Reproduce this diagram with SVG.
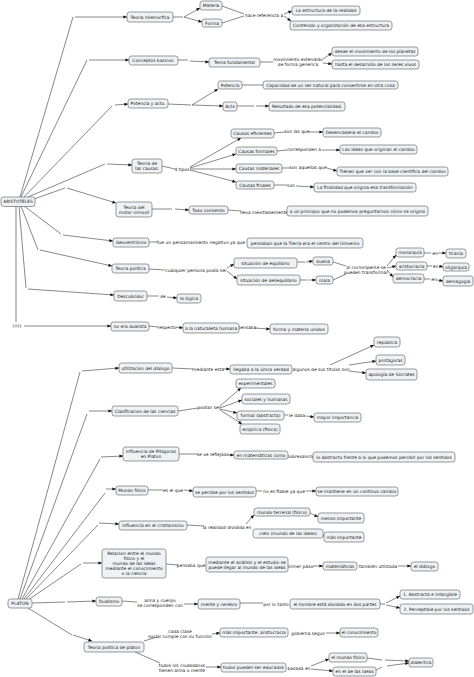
<svg xmlns="http://www.w3.org/2000/svg" width="474" height="677" viewBox="0 0 474 677">
<defs>
<marker id="ar" viewBox="0 0 10 10" refX="10" refY="5" markerWidth="4" markerHeight="3.6" markerUnits="userSpaceOnUse" orient="auto"><path d="M0,0.5 L10,5 L0,9.5 z" fill="#111"/></marker>
<style>
rect{fill:#eef2f5;stroke:#6e6e6e;stroke-width:0.7}
text{font-family:"DejaVu Sans",Verdana,sans-serif;font-size:4.4px;fill:#222;text-anchor:middle;dominant-baseline:central}
.c line,.c path{stroke:#555;stroke-width:0.7;fill:none}
.c .a{marker-end:url(#ar)}
</style>
</defs>
<rect x="0" y="0" width="474" height="677" style="fill:#fff;stroke:none"/>
<g class="c" id="connectors">
<path d="M20,197 L73,17"/><line class="a" x1="75" y1="17" x2="127" y2="17"/>
<path d="M21,197 L87,60"/><line class="a" x1="89" y1="60" x2="129" y2="60"/>
<path d="M24,197 L112,106"/><line class="a" x1="115" y1="105" x2="128" y2="104"/>
<path d="M28,197 L105,164"/><line class="a" x1="107" y1="164" x2="132" y2="165"/>
<path d="M34,199 L65,188"/><line class="a" x1="67" y1="188" x2="116" y2="203"/>
<path d="M24,206 L61,234"/><line class="a" x1="63" y1="235" x2="113" y2="241"/>
<path d="M21,206 L38,250"/><line class="a" x1="40" y1="250" x2="112" y2="266"/>
<path d="M19,206 L26,288"/><line class="a" x1="28" y1="289" x2="114" y2="295"/>
<path d="M16,206 L16,322"/><text x="17" y="326">????</text><line class="a" x1="24" y1="326" x2="111" y2="326"/>
<line x1="173" y1="17" x2="183" y2="17"/><line class="a" x1="184" y1="17" x2="200" y2="8"/><line class="a" x1="184" y1="17" x2="202" y2="22"/>
<line x1="222" y1="6" x2="244" y2="14"/><line x1="222" y1="23" x2="244" y2="16"/>
<text x="264" y="15">hace referencia a</text>
<line class="a" x1="284" y1="14" x2="292" y2="11"/><line class="a" x1="284" y1="16" x2="291" y2="21"/>
<line x1="178" y1="60" x2="188" y2="60"/><line class="a" x1="190" y1="61" x2="209" y2="62"/>
<line x1="260" y1="62" x2="273" y2="62"/>
<text x="298" y="59">movimiento extendido</text><text x="298" y="64">de forma genérica</text>
<line class="a" x1="323" y1="59" x2="332" y2="53"/><line class="a" x1="323" y1="63" x2="332" y2="64"/>
<line x1="168" y1="104" x2="191" y2="105"/><line class="a" x1="192" y1="105" x2="218" y2="89"/><line class="a" x1="192" y1="105" x2="223" y2="106"/>
<line x1="242" y1="85" x2="263" y2="85"/>
<line x1="237" y1="106" x2="254" y2="106"/><line class="a" x1="256" y1="106" x2="269" y2="106"/>
<line x1="162" y1="166" x2="175" y2="169"/><text x="182" y="169">4 tipos</text>
<line class="a" x1="190" y1="167" x2="241" y2="138"/><line class="a" x1="190" y1="168" x2="236" y2="154"/><line class="a" x1="190" y1="169" x2="236" y2="169"/><line class="a" x1="190" y1="170" x2="236" y2="182"/>
<line x1="274" y1="133" x2="285" y2="132"/><text x="297" y="131">son las que</text><line class="a" x1="309" y1="132" x2="323" y2="132"/>
<line x1="277" y1="151" x2="287" y2="150"/><text x="304" y="149">corresponden a</text><line class="a" x1="322" y1="150" x2="340" y2="150"/>
<line x1="282" y1="168" x2="290" y2="168"/><text x="308" y="167">son aquellas que</text><line class="a" x1="327" y1="168" x2="337" y2="171"/>
<line x1="274" y1="185" x2="287" y2="185"/><text x="291" y="185">son</text><line class="a" x1="296" y1="186" x2="314" y2="187"/>
<line x1="152" y1="209" x2="172" y2="209"/><line class="a" x1="175" y1="209" x2="189" y2="210"/>
<line x1="228" y1="210" x2="241" y2="211"/><text x="264" y="212">lleva inevitablemente</text>
<line x1="149" y1="242" x2="157" y2="242"/><text x="201" y="242">fue un pensamamiento negativo ya que</text>
<line x1="149" y1="269" x2="165" y2="270"/><text x="196" y="270">cualquier persona podia ser</text>
<line class="a" x1="227" y1="268" x2="234" y2="264"/><line class="a" x1="227" y1="271" x2="237" y2="279"/>
<line x1="297" y1="262" x2="305" y2="262"/><line class="a" x1="306" y1="262" x2="313" y2="261"/>
<line x1="300" y1="280" x2="307" y2="280"/><line class="a" x1="308" y1="280" x2="316" y2="280"/>
<line x1="333" y1="262" x2="346" y2="266"/><line x1="333" y1="280" x2="346" y2="274"/>
<text x="366" y="267.5">al corromperse se</text><text x="366" y="272.5">pueden transformar</text>
<line class="a" x1="387" y1="266" x2="396" y2="255"/><line class="a" x1="387" y1="268" x2="396" y2="266"/><line class="a" x1="387" y1="270" x2="393" y2="277"/>
<line x1="424" y1="253" x2="431" y2="253"/><text x="435" y="253">en</text><line class="a" x1="438" y1="253" x2="446" y2="253"/>
<line x1="427" y1="266" x2="432" y2="266"/><text x="435.5" y="266">en</text><line class="a" x1="439" y1="266" x2="443" y2="267"/>
<line x1="424" y1="279" x2="430" y2="279"/><text x="434" y="279">en</text><line class="a" x1="437" y1="280" x2="443" y2="281"/>
<line x1="147" y1="296" x2="159" y2="296"/><text x="163" y="296">de</text><line class="a" x1="167" y1="297" x2="177" y2="298"/>
<line x1="149" y1="326" x2="158" y2="327"/><text x="167" y="327">respecto</text><line class="a" x1="176" y1="327" x2="183" y2="328"/>
<text x="247" y="327">pensaba</text><line class="a" x1="254" y1="328" x2="270" y2="329"/>
<path d="M18,599 L80,372"/><line class="a" x1="82" y1="371" x2="119" y2="368"/>
<path d="M20,599 L87,414"/><line class="a" x1="89" y1="411" x2="112" y2="411"/>
<path d="M22,599 L100,459"/><line class="a" x1="101" y1="457" x2="123" y2="456"/>
<path d="M24,599 L105,493"/><line class="a" x1="106" y1="489" x2="116" y2="489"/>
<path d="M26,599 L98,525"/><line class="a" x1="99" y1="523" x2="119" y2="524"/>
<path d="M28,600 L81,564"/><line class="a" x1="83" y1="563" x2="102" y2="563"/>
<path d="M32,603 L65,602"/><line class="a" x1="67" y1="602" x2="96" y2="601"/>
<path d="M28,608 L72,635"/><line class="a" x1="73" y1="635" x2="92" y2="641"/>
<line x1="172" y1="368" x2="193" y2="369"/><text x="208" y="369">mediante esta</text><line class="a" x1="223" y1="369" x2="230" y2="369"/>
<text x="321" y="369">algunos de sus títulos son</text>
<line class="a" x1="330" y1="365" x2="374" y2="345"/><line class="a" x1="349" y1="365" x2="376" y2="361"/><line class="a" x1="349" y1="371" x2="366" y2="373"/>
<line x1="178" y1="411" x2="198" y2="408"/><text x="209" y="407">podían ser</text>
<line class="a" x1="220" y1="406" x2="241" y2="388"/><line class="a" x1="220" y1="408" x2="242" y2="400"/><line class="a" x1="220" y1="409" x2="237" y2="413"/><line class="a" x1="220" y1="410" x2="242" y2="424"/>
<line x1="284" y1="415" x2="288" y2="415"/><text x="297" y="415">le daba</text><line class="a" x1="306" y1="416" x2="314" y2="417"/>
<line x1="179" y1="454" x2="197" y2="454"/><text x="213" y="454">se ve reflejado</text><line class="a" x1="229" y1="455" x2="234" y2="455"/>
<text x="300" y="456">sobrevalora</text>
<line x1="148" y1="490" x2="163" y2="490"/><text x="173" y="490">es el que</text><line class="a" x1="184" y1="490" x2="193" y2="491"/>
<line x1="256" y1="491" x2="262" y2="491"/><text x="284" y="491">no es fiable ya que</text><line class="a" x1="306" y1="491" x2="316" y2="491"/>
<line x1="187" y1="525" x2="204" y2="526"/><text x="227" y="527">la realidad dividida en</text>
<line class="a" x1="246" y1="524" x2="254" y2="515"/>
<line class="a" x1="310" y1="513" x2="318" y2="517"/>
<line class="a" x1="320" y1="535" x2="324" y2="536"/>
<line x1="166" y1="564" x2="178" y2="565"/><text x="191" y="565">pensaba que</text>
<text x="300" y="566">primer paso</text><line class="a" x1="313" y1="566" x2="323" y2="566"/>
<text x="378" y="566">también utilizada</text><line class="a" x1="398" y1="566" x2="411" y2="566"/>
<line x1="122" y1="601" x2="137" y2="602"/><text x="160" y="600">alma y cuerpo</text><text x="160" y="605">se corresponden con</text><line class="a" x1="184" y1="604" x2="198" y2="604"/>
<line x1="240" y1="603" x2="263" y2="603"/><text x="276" y="604">por lo tanto</text>
<line x1="380" y1="604" x2="385" y2="604"/><line class="a" x1="386" y1="603" x2="400" y2="596"/><line class="a" x1="386" y1="605" x2="400" y2="608"/>
<line x1="144" y1="641" x2="157" y2="637"/><text x="180" y="631">cada clase</text><text x="180" y="636">social cumple con su función</text><line class="a" x1="212" y1="634" x2="220" y2="633"/>
<text x="308" y="633">gobierna segun</text><line class="a" x1="326" y1="633" x2="340" y2="633"/>
<line x1="135" y1="652" x2="160" y2="663"/><text x="182" y="665">todos los ciudadanos</text><text x="182" y="670">tienen alma o mente</text><line class="a" x1="206" y1="667" x2="221" y2="667"/>
<text x="299" y="668">basada en</text><line class="a" x1="311" y1="666" x2="329" y2="659"/><line class="a" x1="311" y1="669" x2="333" y2="671"/>
<line x1="367" y1="658" x2="382" y2="660"/><line class="a" x1="385" y1="660" x2="409" y2="661"/>
<line x1="376" y1="670" x2="382" y2="667"/><line class="a" x1="387" y1="666" x2="409" y2="663"/>
</g>
<g id="aristoteles"><rect x="1" y="197" width="34" height="9.5" rx="2.5"/><text x="18" y="201.8">ARISTOTELES</text></g>
<g id="hilemorfica"><rect x="127" y="12" width="46" height="10" rx="2.5"/><text x="150" y="17">Teoria hilemorfica</text></g>
<g id="materia"><rect x="200" y="1" width="22" height="9" rx="2.5"/><text x="211" y="5.5">Materia</text></g>
<g id="forma"><rect x="202" y="19" width="20" height="8" rx="2.5"/><text x="212" y="23">Forma</text></g>
<g id="estructura"><rect x="292" y="6" width="68" height="9" rx="2.5"/><text x="326" y="10.5">La estructura de la realidad</text></g>
<g id="contenido"><rect x="290" y="21" width="102" height="9" rx="2.5"/><text x="341" y="25.5">Contenido y organización de esa estructura</text></g>
<g id="conceptos"><rect x="129" y="56" width="49" height="9" rx="2.5"/><text x="153.5" y="60.5">Conceptos basicos.</text></g>
<g id="tema"><rect x="209" y="58" width="51" height="9" rx="2.5"/><text x="234.5" y="62.5">Tema fundamental</text></g>
<g id="planetas"><rect x="332" y="47" width="86" height="9" rx="2.5"/><text x="375" y="51.5">desde el movimiento de los planetas</text></g>
<g id="seres"><rect x="332" y="60" width="87" height="9" rx="2.5"/><text x="375.5" y="64.5">hasta el desarrollo de los seres vivos</text></g>
<g id="potacto"><rect x="128" y="99" width="40" height="9" rx="2.5"/><text x="148" y="103.5">Potencia y acto.</text></g>
<g id="potencia"><rect x="218" y="81" width="24" height="8" rx="2.5"/><text x="230" y="85">Potencia</text></g>
<g id="acto"><rect x="223" y="102" width="14" height="9" rx="2.5"/><text x="230" y="106.5">Acto</text></g>
<g id="capacidad"><rect x="263" y="81" width="135" height="8" rx="2.5"/><text x="330.5" y="85">Capacidad de un ser natural para convertirse en otra cosa</text></g>
<g id="resultado"><rect x="269" y="102" width="76" height="9" rx="2.5"/><text x="307" y="106.5">Resultado de esa potencialidad.</text></g>
<g id="causas"><rect x="132" y="159" width="30" height="14" rx="2.5"/><text x="147" y="163.5">Teoria de</text><text x="147" y="168.5">las causas.</text></g>
<g id="eficientes"><rect x="231" y="129" width="43" height="9" rx="2.5"/><text x="252.5" y="133.5">Causas eficientes</text></g>
<g id="formales"><rect x="236" y="147" width="41" height="8" rx="2.5"/><text x="256.5" y="151">Causas formales</text></g>
<g id="materiales"><rect x="236" y="164" width="46" height="9" rx="2.5"/><text x="259" y="168.5">Causas materiales</text></g>
<g id="finales"><rect x="236" y="181" width="38" height="8" rx="2.5"/><text x="255" y="185">Causas finales</text></g>
<g id="desencadena"><rect x="323" y="128" width="58" height="9" rx="2.5"/><text x="352" y="132.5">Desencadena el cambio</text></g>
<g id="ideas"><rect x="340" y="145" width="77" height="9" rx="2.5"/><text x="378.5" y="149.5">Las ideas que originan el cambio</text></g>
<g id="base"><rect x="337" y="167" width="111" height="9" rx="2.5"/><text x="392.5" y="171.5">Tienen que ver con la base cientifica del cambio</text></g>
<g id="finalidad"><rect x="314" y="183" width="102" height="9" rx="2.5"/><text x="365" y="187.5">La finalidad que origina esa transformación</text></g>
<g id="motor"><rect x="116" y="202" width="36" height="15" rx="2.5"/><text x="134" y="207">Teoria del</text><text x="134" y="212">motor inmovil</text></g>
<g id="comienzo"><rect x="189" y="206" width="39" height="8" rx="2.5"/><text x="208.5" y="210">Todo comienzo</text></g>
<g id="principio"><rect x="287" y="206" width="141" height="10" rx="2.5"/><text x="357.5" y="211">a un principio que no podemos preguntarnos cómo se originó</text></g>
<g id="geocentrismo"><rect x="113" y="238" width="36" height="9" rx="2.5"/><text x="131" y="242.5">Geocentrismo</text></g>
<g id="tierra"><rect x="247" y="238" width="116" height="10" rx="2.5"/><text x="305" y="243">pensaban que la Tierra era el centro del Universo</text></g>
<g id="politica"><rect x="112" y="264" width="37" height="9" rx="2.5"/><text x="130.5" y="268.5">Teoria politica</text></g>
<g id="equilibrio"><rect x="234" y="258" width="63" height="10" rx="2.5"/><text x="265.5" y="263">situación de equilibrio</text></g>
<g id="desequilibrio"><rect x="237" y="275" width="63" height="10" rx="2.5"/><text x="268.5" y="280">situación de desequilibrio</text></g>
<g id="buena"><rect x="313" y="257" width="20" height="8" rx="2.5"/><text x="323" y="261">buena</text></g>
<g id="mala"><rect x="316" y="276" width="17" height="8" rx="2.5"/><text x="324.5" y="280">mala</text></g>
<g id="monarquia"><rect x="396" y="248" width="28" height="9" rx="2.5"/><text x="410" y="252.5">monarquía</text></g>
<g id="aristocracia"><rect x="396" y="262" width="31" height="8" rx="2.5"/><text x="411.5" y="266">aristocracia</text></g>
<g id="democracia"><rect x="393" y="274" width="31" height="9" rx="2.5"/><text x="408.5" y="278.5">democracia</text></g>
<g id="tirania"><rect x="446" y="249" width="20" height="9" rx="2.5"/><text x="456" y="253.5">tiranía</text></g>
<g id="oligarquia"><rect x="443" y="263" width="26" height="8" rx="2.5"/><text x="456" y="267">oligarquía</text></g>
<g id="demagogia"><rect x="443" y="276" width="30" height="10" rx="2.5"/><text x="458" y="281">demagogia</text></g>
<g id="descubridor"><rect x="114" y="291" width="33" height="10" rx="2.5"/><text x="130.5" y="296">Descubridor</text></g>
<g id="logica"><rect x="177" y="294" width="24" height="9" rx="2.5"/><text x="189" y="298.5">la lógica</text></g>
<g id="dualista"><rect x="111" y="322" width="38" height="9" rx="2.5"/><text x="130" y="326.5">no era dualista</text></g>
<g id="naturaleza"><rect x="183" y="323" width="56" height="10" rx="2.5"/><text x="211" y="328">a la naturaleza humana</text></g>
<g id="unidos"><rect x="270" y="324" width="58" height="10" rx="2.5"/><text x="299" y="329">forma y materia unidos</text></g>
<g id="platon"><rect x="8" y="599" width="24" height="9" rx="2.5"/><text x="20" y="603.5">PLATON</text></g>
<g id="dialogo"><rect x="119" y="363" width="53" height="10" rx="2.5"/><text x="145.5" y="368">utilizacion del dialogo</text></g>
<g id="verdad"><rect x="230" y="365" width="62" height="9" rx="2.5"/><text x="261" y="369.5">llegaba a la única verdad</text></g>
<g id="republica"><rect x="374" y="337" width="26" height="10" rx="2.5"/><text x="387" y="342">república</text></g>
<g id="protagoras"><rect x="376" y="355" width="29" height="10" rx="2.5"/><text x="390.5" y="360">protágoras</text></g>
<g id="apologia"><rect x="366" y="369" width="51" height="11" rx="2.5"/><text x="391.5" y="374.5">apología de Sócrates</text></g>
<g id="clasificacion"><rect x="112" y="406" width="66" height="10" rx="2.5"/><text x="145" y="411">Clasificacion de las ciencias</text></g>
<g id="experimentales"><rect x="236" y="379" width="39" height="9" rx="2.5"/><text x="255.5" y="383.5">experimentales</text></g>
<g id="sociales"><rect x="242" y="394" width="48" height="10" rx="2.5"/><text x="266" y="399">sociales y humanas</text></g>
<g id="formal"><rect x="237" y="411" width="47" height="9" rx="2.5"/><text x="260.5" y="415.5">formal (abstracta)</text></g>
<g id="importancia"><rect x="314" y="413" width="47" height="9" rx="2.5"/><text x="337.5" y="417.5">mayor importancia</text></g>
<g id="empirica"><rect x="240" y="424" width="40" height="10" rx="2.5"/><text x="260" y="429">empírica (fisica)</text></g>
<g id="pitagoras"><rect x="123" y="447" width="56" height="14" rx="2.5"/><text x="151" y="451.5">Influencia de Pitagoras</text><text x="151" y="456.5">en Platon</text></g>
<g id="matematicas1"><rect x="234" y="451" width="54" height="8" rx="2.5"/><text x="261" y="455">en matemáticas como</text></g>
<g id="abstracto"><rect x="313" y="452" width="142" height="10" rx="2.5"/><text x="384" y="457">lo abstracto frente a lo que podemos percibir por los sentidos</text></g>
<g id="mundofisico"><rect x="116" y="486" width="32" height="9" rx="2.5"/><text x="132" y="490.5">Mundo físico</text></g>
<g id="percibe"><rect x="193" y="487" width="63" height="10" rx="2.5"/><text x="224.5" y="492">se percibe por los sentidos</text></g>
<g id="cambio"><rect x="316" y="487" width="82" height="9" rx="2.5"/><text x="357" y="491.5">se mantiene en un continuo cambio</text></g>
<g id="cristianismo"><rect x="119" y="521" width="68" height="9" rx="2.5"/><text x="153" y="525.5">Influencia en el cristianismo</text></g>
<g id="terrenal"><rect x="254" y="508" width="56" height="8" rx="2.5"/><text x="282" y="512">mundo terrenal (físico)</text></g>
<g id="cielo"><rect x="253" y="529" width="70" height="9" rx="2.5"/><text x="288" y="533.5">cielo (mundo de las ideas)</text></g>
<g id="menos"><rect x="318" y="513" width="46" height="10" rx="2.5"/><text x="341" y="518">menos importante</text></g>
<g id="mas"><rect x="324" y="532" width="40" height="10" rx="2.5"/><text x="344" y="537">más importante</text></g>
<g id="relacion"><rect x="102" y="549" width="64" height="29" rx="2.5"/><text x="134" y="553">Relacion entre el mundo</text><text x="134" y="558.2">físico y el</text><text x="134" y="563.4">mundo de las ideas</text><text x="134" y="568.6">mediante el conocimiento</text><text x="134" y="573.8">o la ciencia</text></g>
<g id="analisis"><rect x="206" y="557" width="82" height="15" rx="2.5"/><text x="247" y="562">mediante el análisis y el estudio se</text><text x="247" y="567">puede llegar al mundo de las ideas</text></g>
<g id="matematicas2"><rect x="323" y="562" width="34" height="8" rx="2.5"/><text x="340" y="566">matemáticas</text></g>
<g id="eldialogo"><rect x="411" y="562" width="27" height="9" rx="2.5"/><text x="424.5" y="566.5">el diálogo</text></g>
<g id="dualismo"><rect x="96" y="597" width="26" height="9" rx="2.5"/><text x="109" y="601.5">Dualismo</text></g>
<g id="mente"><rect x="198" y="599" width="42" height="10" rx="2.5"/><text x="219" y="604">mente y cerebro</text></g>
<g id="hombre"><rect x="290" y="599" width="90" height="10" rx="2.5"/><text x="335" y="604">el hombre está dividido en dos partes</text></g>
<g id="abstracta"><rect x="400" y="590" width="60" height="9" rx="2.5"/><text x="430" y="594.5">1. Abstracta e intangible</text></g>
<g id="perceptible"><rect x="400" y="604" width="73" height="10" rx="2.5"/><text x="436.5" y="609">2. Perceptible por los sentidos</text></g>
<g id="politicaplaton"><rect x="84" y="642" width="60" height="10" rx="2.5"/><text x="114" y="647">Teoria politica de platon</text></g>
<g id="aristocracia2"><rect x="220" y="628" width="68" height="9" rx="2.5"/><text x="254" y="632.5">más importante: aristocracia</text></g>
<g id="conocimiento"><rect x="340" y="628" width="38" height="9" rx="2.5"/><text x="359" y="632.5">el conocimiento</text></g>
<g id="educados"><rect x="221" y="663" width="65" height="9" rx="2.5"/><text x="253.5" y="667.5">todos pueden ser educados</text></g>
<g id="elmundofisico"><rect x="329" y="653" width="38" height="9" rx="2.5"/><text x="348" y="657.5">el mundo físico</text></g>
<g id="ideas2"><rect x="333" y="667" width="43" height="9" rx="2.5"/><text x="354.5" y="671.5">en el de las ideas</text></g>
<g id="dialectica"><rect x="409" y="658" width="24" height="9" rx="2.5"/><text x="421" y="662.5">dialectica</text></g>
</svg>
